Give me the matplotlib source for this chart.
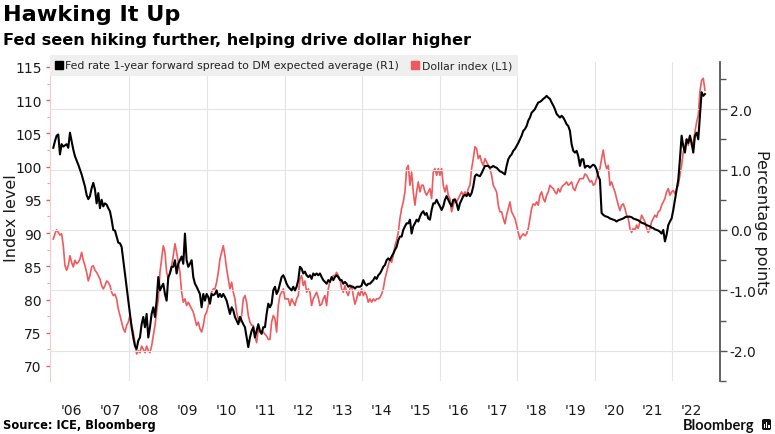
import numpy as np
import pandas as pd
import matplotlib
matplotlib.use("Agg")
import matplotlib.pyplot as plt
from matplotlib.lines import Line2D
from matplotlib.patches import FancyBboxPatch, Rectangle

plt.rcParams['font.family'] = ['DejaVu Sans']

# ---------------- data ----------------
start_date = "2006-01-13"
end_date = "2022-11-06"

fed_spread = [
    1.36, 1.47, 1.56, 1.58, 1.25, 1.42, 1.38, 1.40, 1.42, 1.36, 1.61, 1.47, 1.33, 1.22, 1.15, 1.08, 1.00, 0.92, 0.82, 0.72,
    0.58, 0.51, 0.56, 0.69, 0.78, 0.67, 0.44, 0.61, 0.36, 0.50, 0.39, 0.44, 0.42, 0.36, 0.31, 0.17, 0.00, -0.01, -0.11, -0.21,
    -0.22, -0.28, -0.50, -0.72, -0.94, -1.17, -1.39, -1.61, -1.78, -1.92, -1.97, -1.83, -1.78, -1.56, -1.44, -1.61, -1.39, -1.78, -1.61, -1.39,
    -1.28, -1.44, -1.17, -0.78, -1.00, -0.94, -0.89, -1.06, -1.17, -0.78, -0.72, -0.61, -0.61, -0.50, -0.72, -0.56, -0.50, -0.44, -0.56, -0.06,
    -0.50, -0.61, -0.56, -0.50, -0.78, -0.89, -0.94, -1.00, -1.06, -1.28, -1.06, -1.17, -1.06, -1.11, -1.22, -1.06, -1.08, -1.06, -1.00, -1.11,
    -1.06, -1.11, -1.06, -1.11, -1.17, -1.28, -1.39, -1.28, -1.33, -1.44, -1.50, -1.56, -1.44, -1.50, -1.56, -1.61, -1.78, -1.94,
    -1.78, -1.67, -1.61, -1.78, -1.67, -1.56, -1.67, -1.72, -1.61, -1.61, -1.39, -1.22, -1.28, -1.22, -1.00, -0.94, -1.06, -1.00, -0.89, -0.78,
    -0.75, -0.81, -0.89, -0.94, -0.97, -1.00, -0.94, -1.00, -0.94, -0.83, -0.61, -0.64, -0.72, -0.69, -0.75, -0.78, -0.75, -0.81, -0.72, -0.75,
    -0.72, -0.75, -0.72, -0.78, -0.83, -0.86, -0.89, -0.83, -0.86, -0.78, -0.83, -0.78, -0.75, -0.78, -0.83, -0.83, -0.89, -0.86, -0.89, -0.94,
    -0.92, -0.94, -0.94, -0.97, -0.94, -0.94, -0.94, -0.92, -0.83, -0.89, -0.92, -0.89, -0.89, -0.86, -0.83, -0.78, -0.81, -0.75, -0.72, -0.67,
    -0.61, -0.58, -0.50, -0.47, -0.50, -0.44, -0.39, -0.33, -0.28, -0.17, -0.11, -0.11, 0.00, 0.06, 0.11, 0.11, 0.17, -0.06, 0.06, 0.11,
    0.17, 0.14, 0.22, 0.28, 0.31, 0.25, 0.28, 0.19, 0.17, 0.33, 0.44, 0.44, 0.50, 0.44, 0.39, 0.33, 0.39, 0.50, 0.56, 0.50,
    0.44, 0.39, 0.50, 0.50, 0.44, 0.33, 0.44, 0.50, 0.56, 0.58, 0.56, 0.61,
    0.56, 0.61, 0.72, 0.89, 0.92, 0.90, 0.89, 0.94, 1.00, 1.06, 1.06, 1.06, 1.03, 1.04, 1.06, 1.04, 1.03, 1.00, 0.97, 0.96,
    0.94, 0.92, 1.06, 1.17, 1.22, 1.25, 1.31, 1.34, 1.39, 1.44, 1.50, 1.56, 1.64, 1.67, 1.72, 1.81, 1.86, 1.94, 1.97, 2.00,
    2.06, 2.11, 2.12, 2.14, 2.17, 2.19, 2.22, 2.19, 2.17, 2.11, 2.06, 2.00, 1.92, 1.89, 1.86, 1.89, 1.86, 1.81, 1.75, 1.72,
    1.64, 1.42, 1.31, 1.28, 1.31, 1.22, 1.06, 1.17, 1.17, 1.03, 1.06, 1.06, 1.03, 1.06, 1.08, 1.06, 1.00, 0.89, 0.83, 0.28,
    0.25, 0.23, 0.22, 0.21, 0.19, 0.18, 0.17, 0.16, 0.14, 0.16, 0.17, 0.18, 0.19, 0.21, 0.22, 0.22, 0.22, 0.21, 0.19, 0.18,
    0.17, 0.16, 0.14, 0.12, 0.11, 0.10, 0.08, 0.07, 0.06, 0.04, 0.03, 0.01, 0.00, -0.01, -0.03, -0.06, 0.00, -0.19, -0.08, 0.08,
    0.14, 0.19, 0.33, 0.50, 0.67, 0.83, 1.17, 1.56, 1.39, 1.28, 1.50, 1.44, 1.56, 1.44, 1.28, 1.56, 1.61, 1.50, 1.89, 2.28,
    2.22, 2.25,
]

dollar_index = [
    89.1, 89.9, 90.5, 90.1, 89.7, 89.9, 88.1, 85.1, 84.4, 85.1, 86.6, 85.6, 84.9, 85.9, 85.4, 85.6, 86.1, 87.1, 85.9, 85.1,
    84.1, 82.8, 83.6, 84.9, 85.1, 84.4, 84.1, 83.6, 83.1, 82.1, 81.6, 82.1, 82.8, 82.6, 82.1, 81.1, 80.6, 80.8, 80.1, 78.6,
    77.6, 76.6, 75.6, 75.1, 76.1, 76.6, 77.6, 76.1, 75.1, 73.5, 71.8, 72.3, 72.0, 73.0, 72.5, 72.0, 73.0, 72.3, 72.0, 73.0,
    74.5, 76.1, 78.1, 80.1, 84.1, 86.1, 88.1, 87.1, 84.1, 83.1, 84.1, 85.1, 86.6, 88.4, 87.1, 85.6, 84.1, 81.1, 79.6, 80.1,
    79.1, 79.6, 79.1, 78.6, 78.1, 77.1, 76.1, 76.6, 75.6, 75.1, 76.1, 77.6, 78.1, 79.1, 80.1, 81.1, 81.6, 81.6, 82.6, 84.1,
    86.1, 87.1, 88.1, 86.6, 84.6, 83.1, 81.6, 82.6, 81.1, 80.1, 78.1, 77.1, 76.6, 77.6, 80.1, 80.6, 79.6, 77.6,
    76.6, 76.1, 76.1, 74.5, 73.5, 75.6, 75.1, 75.3, 75.1, 74.8, 74.5, 74.0, 74.0, 76.6, 77.6, 77.1, 75.1, 79.1, 80.6, 81.1,
    81.6, 80.1, 80.1, 80.1, 79.1, 80.1, 79.6, 79.1, 80.1, 80.6, 83.1, 83.6, 82.1, 82.8, 81.1, 81.6, 81.1, 79.1, 80.1, 80.6,
    81.1, 80.3, 79.1, 79.3, 80.1, 80.6, 79.1, 81.6, 82.8, 83.1, 83.6, 83.6, 84.1, 83.6, 83.1, 81.6, 81.1, 82.1, 81.1, 80.6,
    81.6, 82.1, 80.6, 79.3, 80.1, 81.1, 80.6, 81.6, 80.6, 81.1, 80.6, 79.6, 80.1, 79.6, 80.1, 79.8, 80.1, 80.1, 80.3, 80.8,
    81.6, 83.1, 84.1, 85.1, 86.1, 85.6, 86.6, 88.1, 88.9, 90.1, 92.2, 93.7, 94.7, 96.2, 99.7, 100.2, 97.2, 99.2, 96.2, 94.2,
    96.2, 97.7, 96.2, 97.2, 97.2, 96.2, 95.7, 96.2, 96.7, 95.2, 99.2, 99.7, 98.7, 99.7, 98.7, 99.7, 97.2, 96.2, 97.2, 95.7,
    95.2, 93.2, 94.2, 95.2, 94.7, 95.2, 95.7, 96.2, 95.7, 96.2, 95.7, 96.7,
    97.2, 99.7, 101.2, 103.0, 102.7, 101.2, 101.7, 100.7, 100.2, 101.2, 100.7, 100.2, 99.7, 98.7, 97.2, 96.7, 96.2, 94.2, 93.2, 93.2,
    92.2, 91.4, 92.7, 93.7, 94.7, 93.2, 92.7, 92.2, 91.2, 90.1, 89.1, 89.6, 89.9, 89.6, 89.9, 90.7, 92.2, 93.7, 94.4, 94.2,
    94.7, 94.2, 95.7, 96.2, 95.2, 94.7, 95.7, 96.2, 97.2, 96.9, 96.7, 96.2, 95.9, 96.7, 96.2, 96.9, 97.2, 97.4, 97.7, 97.2,
    97.4, 97.7, 96.7, 96.4, 97.2, 97.7, 98.2, 98.2, 98.2, 98.9, 98.7, 98.2, 97.7, 97.9, 97.2, 97.4, 98.2, 99.2, 99.7, 101.2,
    102.5, 100.7, 99.7, 100.2, 97.2, 97.7, 96.9, 96.2, 95.2, 94.2, 93.4, 94.2, 94.4, 93.7, 92.7, 92.2, 90.7, 90.1, 90.7, 90.4,
    91.2, 90.7, 91.7, 92.7, 92.2, 91.7, 90.7, 90.1, 90.7, 91.7, 92.2, 92.7, 92.4, 93.2, 93.4, 94.2, 94.7, 95.2, 96.2, 96.7,
    95.7, 96.2, 96.4, 95.9, 96.7, 97.2, 98.7, 100.2, 102.2, 103.2, 104.2, 103.2, 104.7, 103.2, 103.7, 105.2, 106.7, 107.7, 111.3, 113.0,
    113.3, 111.5,
]

years = list(range(2006, 2023))
year_labels = ["'%02d" % (y % 100) for y in years]
left_ticks = list(range(70, 116, 5))
right_ticks = [-2.0, -1.0, 0.0, 1.0, 2.0]
right_labels = ["-2.0", "-1.0", "0.0", "1.0", "2.0"]

title = "Hawking It Up"
subtitle = "Fed seen hiking further, helping drive dollar higher"
source = "Source: ICE, Bloomberg"
label_black = "Fed rate 1-year forward spread to DM expected average (R1)"
label_red = "Dollar index (L1)"

# ---------------- figure ----------------
W, H = 775, 435
fig = plt.figure(figsize=(W / 100, H / 100), dpi=100)

def fx(px):
    return px / W

def fy(py):
    return 1 - py / H

RED = '#f0595d'
BLACK = '#000000'
TXT = '#1a1a1a'

dates = pd.date_range(start_date, end_date, periods=len(fed_spread))

left_px, right_px, top_px, bot_px = 50, 720, 63, 382
ax = fig.add_axes([fx(left_px), fy(bot_px), fx(right_px - left_px), (bot_px - top_px) / H])
ax2 = ax.twinx()

ax.plot(dates, dollar_index, color=RED, lw=1.2, zorder=3)
ax2.plot(dates, fed_spread, color=BLACK, lw=1.5, zorder=4)

ax.set_xlim(pd.Timestamp("2005-12-13"), pd.Timestamp("2023-03-28"))
ax.set_ylim(67.74, 115.75)
ax2.set_ylim(-2.50, 2.78)

# x axis
ax.set_xticks([pd.Timestamp(f"{y}-07-01") for y in years])
ax.set_xticklabels(year_labels)
ax.set_xticks([pd.Timestamp(f"{y}-01-01") for y in range(2008, 2023, 2)], minor=True)
ax.tick_params(axis='x', which='both', length=0, pad=16, labelsize=10, labelcolor=TXT)
ax.grid(axis='x', which='minor', color='#e4e4e4', lw=0.8)
ax.grid(axis='x', which='major', visible=False)

# left axis
ax.set_yticks(left_ticks)
ax.set_yticks(np.arange(72.5, 115, 5), minor=True)
ax.tick_params(axis='y', which='major', length=3, width=1, color=RED, pad=3, labelsize=10, labelcolor=TXT)
ax.tick_params(axis='y', which='minor', length=2, width=0.8, color='#f4a0a2')

# right axis
ax2.set_yticks(right_ticks)
ax2.set_yticklabels(right_labels)
ax2.set_yticks(np.arange(-2.5, 2.6, 1.0), minor=True)
ax2.tick_params(axis='y', which='major', length=5, width=1, color='#555555', pad=2, labelsize=10, labelcolor=TXT)
ax2.tick_params(axis='y', which='minor', length=4, width=1, color='#555555')
ax2.grid(axis='y', which='major', color='#e4e4e4', lw=0.8, zorder=0)

for a in (ax, ax2):
    for s in ('top', 'bottom'):
        a.spines[s].set_visible(False)
ax.spines['right'].set_visible(False)
ax2.spines['left'].set_visible(False)
ax.spines['left'].set_color('#f6c9ca')
ax.spines['left'].set_linewidth(0.8)
ax2.spines['right'].set_color('#555555')
ax2.spines['right'].set_linewidth(1.3)

# axis labels
fig.text(fx(12), fy(218), "Index level", rotation=90, ha='center', va='center', fontsize=11.5, color=TXT)
fig.text(fx(762), fy(222), "Percentage points", rotation=-90, ha='center', va='center', fontsize=11.5, color=TXT)

# legend
handles = [Line2D([], [], marker='s', ls='none', color=BLACK, markersize=6),
           Line2D([], [], marker='s', ls='none', color=RED, markersize=6)]
leg = fig.legend(handles, [label_black, label_red], ncol=2, loc='upper left',
                 bbox_to_anchor=(fx(50), fy(56)), frameon=True, fancybox=False,
                 facecolor='#efefef', edgecolor='none', framealpha=1,
                 fontsize=7.8, handlelength=0.6, handletextpad=0.3, columnspacing=1.2,
                 borderpad=0.5, borderaxespad=0)
for t in leg.get_texts():
    t.set_color('#222222')

# titles
fig.text(fx(3), fy(15), title, fontsize=16.1, fontweight='bold', ha='left', va='center', color='#000000')
fig.text(fx(3), fy(40), subtitle, fontsize=11.65, fontweight='bold', ha='left', va='center', color='#000000')
fig.text(fx(3), fy(426), source, fontsize=8.3, fontweight='bold', ha='left', va='center', color='#000000')

# Bloomberg mark
fig.text(fx(755), fy(426), "Bloomberg", fontsize=10.5, fontweight='bold', family=['Lato', 'DejaVu Sans'],
         ha='right', va='center', color='#111111')
fig.patches.append(FancyBboxPatch((fx(762), fy(431)), fx(9), 11 / H, boxstyle="round,pad=0,rounding_size=0.003",
                                  transform=fig.transFigure, facecolor='#111111', edgecolor='none'))
for i, hgt in enumerate([4, 6, 3]):
    fig.patches.append(Rectangle((fx(764 + i * 2.2), fy(429)), fx(1.2), hgt / H,
                                 transform=fig.transFigure, facecolor='white', edgecolor='none'))

fig.savefig("out.png", dpi=100)
